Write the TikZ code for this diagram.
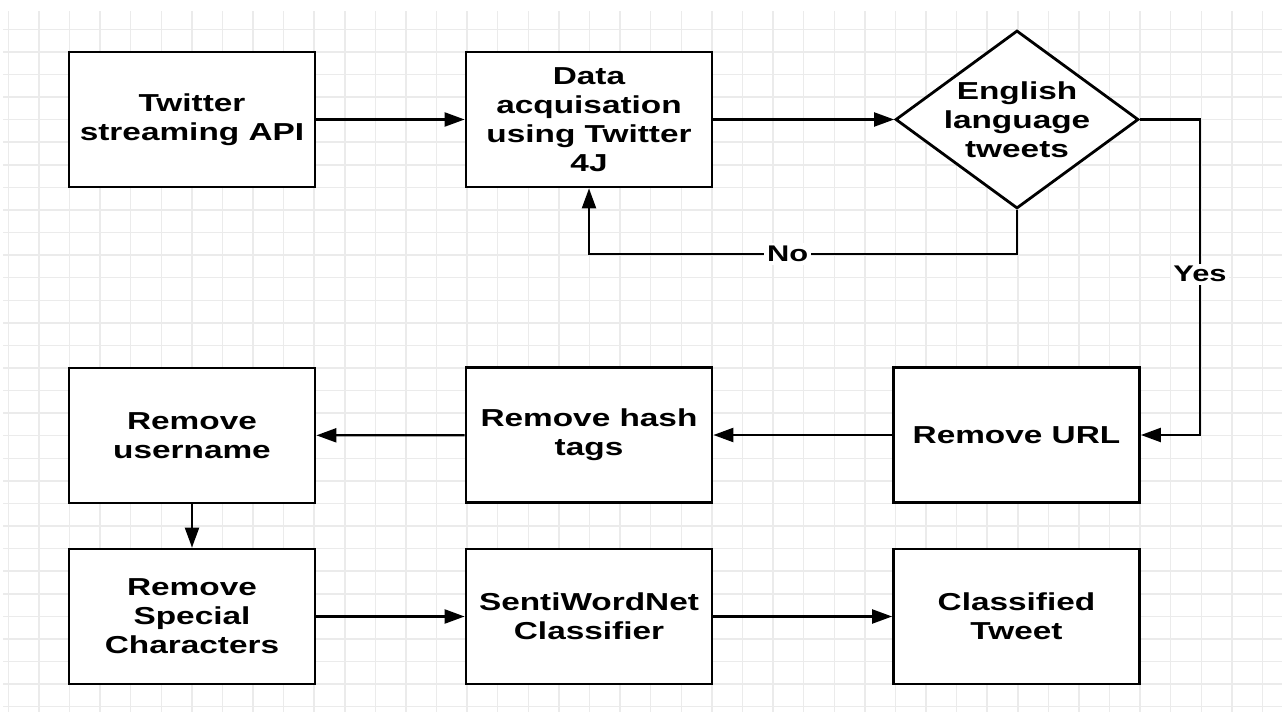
\documentclass[tikz,border=0pt]{standalone}
\usepackage{fontspec}
\newfontfamily\labfont{Liberation Sans}[FakeStretch=1.36]
\usetikzlibrary{arrows.meta,shapes.geometric}
\begin{document}
\begin{tikzpicture}[x=0.75pt,y=-0.75pt,
  gridline/.style={draw=black!8, line width=1.1pt},
  txt/.style={align=center, font=\labfont\bfseries\fontsize{18.4}{21.8}\selectfont},
  box/.style={txt, draw=black, line width=2.1pt, fill=white, rectangle,
    minimum width=184.5pt, minimum height=101.25pt, inner sep=0pt},
  diam/.style={draw=black, line width=2.1pt, fill=white, diamond,
    minimum width=182.25pt, minimum height=133.5pt, inner sep=0pt},
  arr/.style={draw=black, line width=1.7pt, -{Triangle[length=15pt,width=10.5pt]}},
  elab/.style={fill=white, inner sep=2pt, font=\labfont\bfseries\fontsize{17}{20}\selectfont}]
\useasboundingbox (0,0) rectangle (1282,712);
% grid
\foreach \k in {0,...,41} \draw[gridline] ({8.3+30.59*\k},11) -- ({8.3+30.59*\k},712);
\foreach \k in {0,...,30} \draw[gridline] (3,{29.3+22.58*\k}) -- (1282,{29.3+22.58*\k});
% nodes
\node[box] (api) at (192,119.5) {Twitter\\streaming API};
\node[box] (acq) at (589,119.5) {Data\\acquisation\\using Twitter\\4J};
\node[diam] (eng) at (1017,119.5) {};
\node[txt] (engt) at (eng.center) {English\\language\\tweets};
\node[box] (url) at (1016.5,435) {Remove URL};
\node[box] (hash) at (589,435) {Remove hash\\tags};
\node[box] (user) at (192,435.5) {Remove\\username};
\node[box] (spec) at (192,616.5) {Remove\\Special\\Characters};
\node[box] (senti) at (589,616.5) {SentiWordNet\\Classifier};
\node[box] (cls) at (1016.5,616.5) {Classified\\Tweet};
% corners
\coordinate (nocorner) at (1017,254);
\coordinate (ycorner) at (1200,119.5);
% connectors
\draw[arr] (api) -- (acq);
\draw[arr] (acq) -- (eng);
\draw[arr] (eng.south) -- (nocorner) -- node[pos=0.536, elab] {No} (nocorner -| acq.south) -- (acq.south);
\draw[arr] (eng.east) -- (ycorner) -- node[pos=0.49, elab] {Yes} (ycorner |- url.east) -- (url.east);
\draw[arr] (url) -- (hash);
\draw[arr] (hash) -- (user);
\draw[arr] (user) -- (spec);
\draw[arr] (spec) -- (senti);
\draw[arr] (senti) -- (cls);
\end{tikzpicture}
\end{document}
